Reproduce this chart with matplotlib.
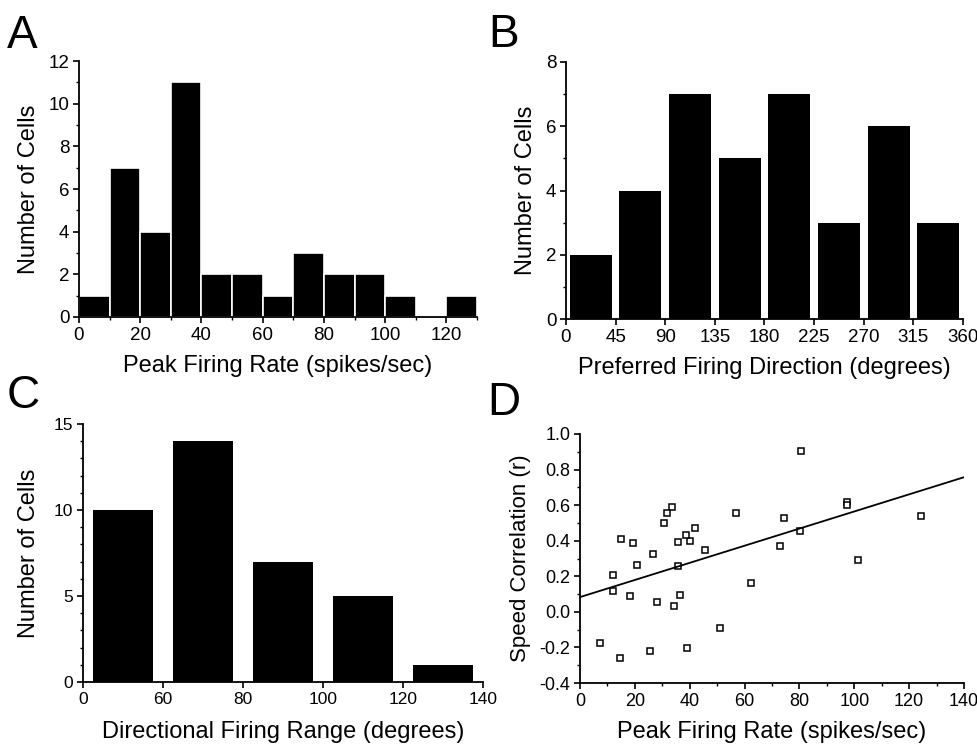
import matplotlib
matplotlib.use("Agg")
import matplotlib.pyplot as plt
import numpy as np
from matplotlib.ticker import MultipleLocator

plt.rcParams['font.family'] = ['Liberation Sans', 'DejaVu Sans']

# A: peak firing rate histogram (10 spikes/sec bins)
rate_bins = [0, 10, 20, 30, 40, 50, 60, 70, 80, 90, 100, 110, 120]
rate_counts = [1, 7, 4, 11, 2, 2, 1, 3, 2, 2, 1, 0, 1]

# B: preferred firing direction (45 degree bins)
dir_centers = [22.5, 67.5, 112.5, 157.5, 202.5, 247.5, 292.5, 337.5]
dir_counts = [2, 4, 7, 5, 7, 3, 6, 3]

# C: directional firing range (categorical bins)
range_labels = ['0', '60', '80', '100', '120', '140']
range_counts = [10, 14, 7, 5, 1]

# D: speed correlation vs peak firing rate
peak_rate = [80.6, 97.3, 97.3, 124.5, 101.3, 80.3, 74.5, 73.0, 62.5, 56.8,
             51.0, 45.5, 41.9, 40.0, 38.7, 35.9, 35.8, 36.3, 34.1, 33.4,
             31.8, 30.5, 26.6, 28.0, 20.9, 19.5, 18.3, 14.9, 11.9, 11.9,
             7.3, 14.6, 25.7, 39.0]
speed_r = [0.905, 0.618, 0.600, 0.539, 0.289, 0.453, 0.526, 0.370, 0.165, 0.554,
           -0.090, 0.346, 0.469, 0.400, 0.430, 0.394, 0.259, 0.092, 0.034, 0.592,
           0.554, 0.501, 0.325, 0.053, 0.265, 0.385, 0.088, 0.411, 0.210, 0.115,
           -0.175, -0.259, -0.218, -0.205]
fit_x = [0, 140]
fit_y = [0.083, 0.757]

W, H = 978, 751
fig = plt.figure(figsize=(W / 100, H / 100), dpi=100)


def box(left, right, top, bottom):
    return [left / W, 1 - bottom / H, (right - left) / W, (bottom - top) / H]


def style(ax, ts=13):
    for s in ['top', 'right']:
        ax.spines[s].set_visible(False)
    for s in ['left', 'bottom']:
        ax.spines[s].set_linewidth(1.3)
    ax.tick_params(which='major', direction='out', length=4, width=1.2,
                   labelsize=ts, pad=3)
    ax.tick_params(which='minor', direction='out', length=2, width=1)


label_fs = 17
letter_fs = 33

# A
axA = fig.add_axes(box(79, 477, 61, 317))
axA.bar(rate_bins, rate_counts, width=10, align='edge', color='black',
        edgecolor='white', linewidth=1.2)
axA.set_xlim(0, 130)
axA.set_ylim(0, 12)
axA.set_xticks([0, 20, 40, 60, 80, 100, 120])
axA.set_yticks([0, 2, 4, 6, 8, 10, 12])
axA.xaxis.set_minor_locator(MultipleLocator(10))
axA.yaxis.set_minor_locator(MultipleLocator(1))
axA.set_xlabel('Peak Firing Rate (spikes/sec)', fontsize=label_fs, labelpad=8)
axA.set_ylabel('Number of Cells', fontsize=label_fs, labelpad=6)
style(axA, 13.5)

# B
axB = fig.add_axes(box(566, 963, 62, 319))
axB.bar(dir_centers, dir_counts, width=38, color='black')
axB.set_xlim(0, 360)
axB.set_ylim(0, 8)
axB.set_xticks(np.arange(0, 361, 45))
axB.set_yticks([0, 2, 4, 6, 8])
axB.yaxis.set_minor_locator(MultipleLocator(1))
axB.set_xlabel('Preferred Firing Direction (degrees)', fontsize=label_fs, labelpad=8)
axB.set_ylabel('Number of Cells', fontsize=label_fs, labelpad=6)
style(axB, 13.5)

# C
axC = fig.add_axes(box(83, 483, 424, 682))
axC.bar(np.arange(len(range_counts)) + 0.5, range_counts, width=0.76, color='black')
axC.set_xlim(0, 5)
axC.set_ylim(0, 15)
axC.set_xticks(np.arange(len(range_labels)))
axC.set_xticklabels(range_labels)
axC.set_yticks([0, 5, 10, 15])
axC.yaxis.set_minor_locator(MultipleLocator(1))
axC.set_xlabel('Directional Firing Range (degrees)', fontsize=label_fs, labelpad=10)
axC.set_ylabel('Number of Cells', fontsize=label_fs, labelpad=10)
style(axC, 12.5)

# D
axD = fig.add_axes(box(580, 964, 434, 683))
axD.plot(peak_rate, speed_r, linestyle='none', marker='s', markersize=4.5,
         markerfacecolor='white', markeredgecolor='black', markeredgewidth=1.1)
axD.plot(fit_x, fit_y, color='black', linewidth=1.3)
axD.set_xlim(0, 140)
axD.set_ylim(-0.4, 1.0)
axD.set_xticks(np.arange(0, 141, 20))
axD.set_yticks(np.arange(-0.4, 1.01, 0.2))
axD.set_yticklabels(['%.1f' % v for v in np.arange(-0.4, 1.01, 0.2)])
axD.xaxis.set_minor_locator(MultipleLocator(10))
axD.yaxis.set_minor_locator(MultipleLocator(0.1))
axD.set_xlabel('Peak Firing Rate (spikes/sec)', fontsize=label_fs, labelpad=8)
axD.set_ylabel('Speed Correlation (r)', fontsize=16, labelpad=6)
style(axD, 13)

# panel letters
for letter, x, y in [('A', 7, 48), ('B', 488, 47), ('C', 7, 408), ('D', 487, 415)]:
    fig.text(x / W, 1 - y / H, letter, fontsize=letter_fs, va='baseline', ha='left')

fig.savefig('out.png', dpi=100)
